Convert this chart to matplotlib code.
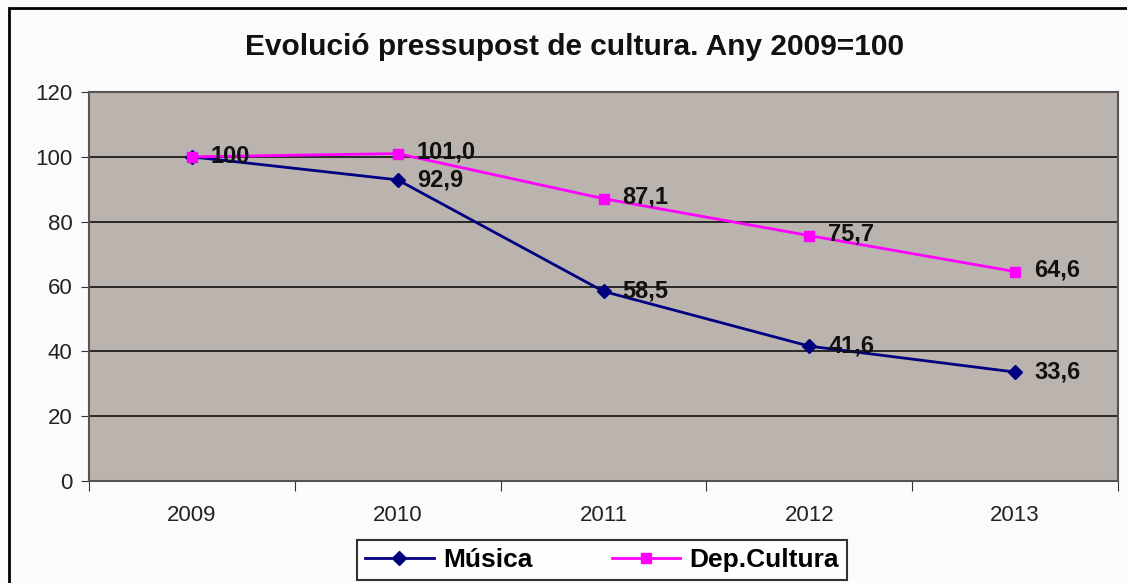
import matplotlib
matplotlib.use("Agg")
import matplotlib.pyplot as plt
from matplotlib.patches import Rectangle

plt.rcParams['font.family'] = ['Liberation Sans', 'DejaVu Sans']

# data
years = ['2009', '2010', '2011', '2012', '2013']
musica = [100, 92.9, 58.5, 41.6, 33.6]
cultura = [100, 101.0, 87.1, 75.7, 64.6]
musica_labels = ['100', '92,9', '58,5', '41,6', '33,6']
cultura_labels = ['', '101,0', '87,1', '75,7', '64,6']

W, H = 1127, 583
fig = plt.figure(figsize=(W / 100, H / 100), dpi=100, facecolor='#fbfbfb')

# outer chart border (left and top visible)
fig.add_artist(Rectangle((9 / W, -0.05), 1.2, (H - 8) / H + 0.05, transform=fig.transFigure,
                         fill=False, edgecolor='black', linewidth=2))

ax = fig.add_axes([89 / W, (H - 481) / H, (1118 - 89) / W, (481 - 92) / H])
ax.set_facecolor('#bab3ae')
x = range(len(years))

ax.plot(x, musica, color='#000080', marker='D', markersize=7, linewidth=2, label='Música', zorder=3)
ax.plot(x, cultura, color='#ff00ff', marker='s', markersize=7, linewidth=2, label='Dep.Cultura', zorder=3)

for i, lab in enumerate(musica_labels):
    ax.annotate(lab, (i, musica[i]), xytext=(19, 0), textcoords='offset pixels',
                ha='left', va='center', fontsize=17, fontweight='bold', color='#111111', zorder=4)
for i, lab in enumerate(cultura_labels):
    if lab:
        ax.annotate(lab, (i, cultura[i]), xytext=(19, 2), textcoords='offset pixels',
                    ha='left', va='center', fontsize=17, fontweight='bold', color='#111111', zorder=4)

ax.set_xlim(-0.5, len(years) - 0.5)
ax.set_ylim(0, 120)
ax.set_yticks(range(0, 121, 20))
ax.yaxis.grid(True, color='#111111', linewidth=1.2)
ax.set_axisbelow(True)

ax.set_xticks([i - 0.5 for i in range(len(years) + 1)])
ax.set_xticklabels([])
ax.set_xticks(list(x), minor=True)
ax.set_xticklabels(years, minor=True)
ax.tick_params(axis='x', which='minor', length=0, pad=17, labelsize=16, labelcolor='#222222')
ax.tick_params(axis='x', which='major', length=7, direction='out', color='#333333')
ax.tick_params(axis='y', length=6, direction='out', pad=6, labelsize=16, labelcolor='#222222', color='#333333')

for s in ax.spines.values():
    s.set_color('#555555')
    s.set_linewidth(1.5)

fig.text(575 / W, 1 - 47 / H, 'Evolució pressupost de cultura. Any 2009=100',
         ha='center', va='center', fontsize=21.5, fontweight='bold', color='#111111')

leg = fig.legend(loc='center', bbox_to_anchor=(602 / W, 1 - 560 / H), ncol=2,
                 prop={'size': 19, 'weight': 'bold'}, frameon=True, fancybox=False,
                 edgecolor='black', handlelength=2.6, columnspacing=3.0,
                 borderpad=0.3, handletextpad=0.35)
leg.get_frame().set_linewidth(1.5)
leg.get_frame().set_facecolor('white')

fig.savefig('out.png', dpi=100, facecolor=fig.get_facecolor())
